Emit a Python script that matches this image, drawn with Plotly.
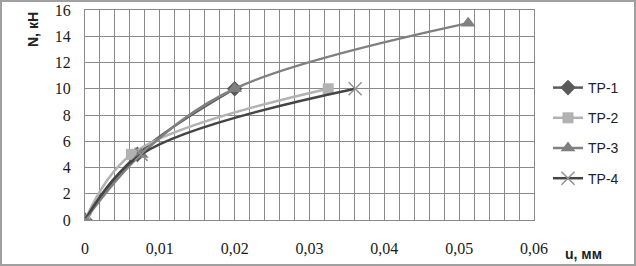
import plotly.graph_objects as go

# Data
tp1_u = [0, 0.007, 0.020]
tp1_n = [0, 5, 10]
tp2_u = [0, 0.0062, 0.0325]
tp2_n = [0, 5, 10]
tp3_u = [0, 0.0075, 0.020, 0.0512]
tp3_n = [0, 5, 10, 15]
tp4_u = [0, 0.0075, 0.0361]
tp4_n = [0, 5, 10]

x_ticks = [0, 0.01, 0.02, 0.03, 0.04, 0.05, 0.06]
x_labels = ["0", "0,01", "0,02", "0,03", "0,04", "0,05", "0,06"]
y_ticks = [0, 2, 4, 6, 8, 10, 12, 14, 16]
y_labels = ["0", "2", "4", "6", "8", "10", "12", "14", "16"]

series = [
    ("TP-1", tp1_u, tp1_n, "#5a5a5a", dict(symbol="diamond", size=12)),
    ("TP-2", tp2_u, tp2_n, "#b2b2b2", dict(symbol="square", size=11)),
    ("TP-3", tp3_u, tp3_n, "#808080", dict(symbol="triangle-up", size=13)),
    ("TP-4", tp4_u, tp4_n, "#454545", dict(symbol="x-thin", size=13)),
]

fig = go.Figure()
for i, (name, xs, ys, col, mk) in enumerate(series):
    marker = dict(color=col, **mk)
    if mk["symbol"] == "x-thin":
        marker["line"] = dict(color="#909090", width=1.5)
    fig.add_trace(go.Scatter(
        x=xs, y=ys, name=name, mode="lines+markers",
        line=dict(color=col, width=2.5, shape="spline", smoothing=1.0),
        marker=marker, legendgroup=f"g{i}",
    ))

W, H = 636, 266
L, R, T, B = 85, 102, 10, 46
pw, ph = W - L - R, H - T - B

fig.update_layout(
    width=W, height=H,
    margin=dict(l=L, r=R, t=T, b=B, autoexpand=False),
    paper_bgcolor="white", plot_bgcolor="white",
    font=dict(family="Liberation Sans", color="#222222"),
    showlegend=True,
    legend=dict(
        x=(548 - L) / pw, y=(220 - 72) / ph, xanchor="left", yanchor="top",
        font=dict(family="Liberation Sans", size=14, color="#222222"),
        tracegroupgap=9, itemwidth=30, bgcolor="rgba(0,0,0,0)",
    ),
    xaxis=dict(
        range=[0, 0.06], tickvals=x_ticks, ticktext=x_labels,
        showgrid=True, gridcolor="#8a8a8a", gridwidth=1,
        minor=dict(dtick=0.002, showgrid=True, gridcolor="#8a8a8a", gridwidth=1),
        showline=True, linecolor="#8a8a8a", linewidth=1, mirror=True,
        zeroline=False, ticks="", ticklabelstandoff=14,
        tickfont=dict(family="Liberation Serif", size=16, color="#1a1a1a"),
        fixedrange=True,
    ),
    yaxis=dict(
        range=[0, 16], tickvals=y_ticks, ticktext=y_labels,
        showgrid=True, gridcolor="#8a8a8a", gridwidth=1,
        showline=True, linecolor="#8a8a8a", linewidth=1, mirror=True,
        zeroline=False, ticks="", ticklabelstandoff=10,
        tickfont=dict(family="Liberation Serif", size=16, color="#1a1a1a"),
        fixedrange=True,
    ),
    annotations=[
        dict(text="<b>N, кН</b>", xref="paper", yref="paper",
             x=(33 - L) / pw, y=(220 - 30) / ph, textangle=-90,
             showarrow=False, font=dict(family="Liberation Sans", size=14, color="#222222"),
             xanchor="center", yanchor="middle"),
        dict(text="<b>u, мм</b>", xref="paper", yref="paper",
             x=(583 - L) / pw, y=(220 - 254) / ph,
             showarrow=False, font=dict(family="Liberation Sans", size=14, color="#222222"),
             xanchor="center", yanchor="middle"),
    ],
    shapes=[
        dict(type="rect", xref="paper", yref="paper",
             x0=(1 - L) / pw, x1=(W - 1 - L) / pw,
             y0=(220 - (H - 1)) / ph, y1=(220 - 1) / ph,
             line=dict(color="#a0a0a0", width=2), fillcolor="rgba(0,0,0,0)", layer="above"),
    ],
)

fig.write_html("out.html", config={"displayModeBar": False, "staticPlot": True},
               post_script="document.body.style.margin='0';document.body.style.overflow='hidden';")
